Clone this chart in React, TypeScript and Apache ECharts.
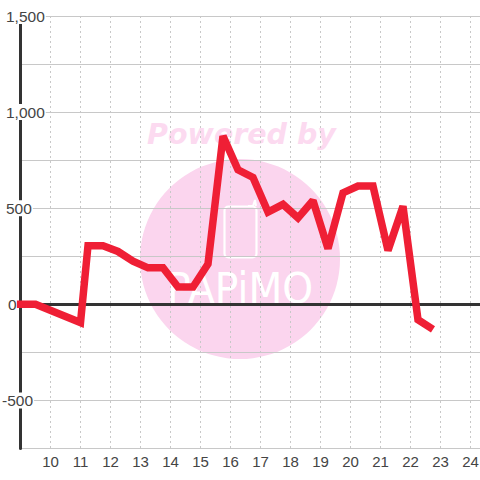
import React, { useEffect, useRef } from "react";
import * as echarts from "echarts";

const hours = [8.88, 9.5, 11, 11.25, 11.75, 12.25, 12.75, 13.25, 13.75, 14.25, 14.75, 15.25, 15.75, 16.25, 16.75, 17.25, 17.75, 18.25, 18.75, 19.25, 19.75, 20.25, 20.75, 21.25, 21.75, 22.25, 22.75];
const values = [0, 0, -95, 305, 305, 275, 225, 190, 190, 90, 90, 210, 875, 700, 660, 480, 520, 450, 540, 290, 580, 615, 615, 280, 510, -80, -130];

const labelFont = { height: 16, lineHeight: 16, fontSize: 15.5, color: "#444", fontFamily: "Liberation Sans" };
const labelRich: Record<string, any> = {
  w: { padding: [0, 1, 0, 4], backgroundColor: "#fff", ...labelFont },
  n: { padding: [0, 1, 0, 0], backgroundColor: "#fff", ...labelFont },
  z: { padding: [0, 0, 0, 6], ...labelFont },
};

export default function App() {
  const ref = useRef<HTMLDivElement>(null);
  useEffect(() => {
    document.body.style.margin = "0";
    const chart = echarts.init(ref.current!, null, { renderer: "svg" });
    chart.setOption({
      animation: false,
      backgroundColor: "#fff",
      grid: { left: 20.5, right: 0, top: 16, bottom: 31.5, containLabel: false, outerBoundsMode: "none" },
      graphic: {
        elements: [
          { type: "circle", z: -10, silent: true, shape: { cx: 240, cy: 259, r: 100 }, style: { fill: "#fbd5ee" } },
          { type: "text", z: -10, silent: true, x: 241.5, y: 134, style: { text: "Powered by", font: "italic bold 28.5px 'DejaVu Sans'", fill: "#fcdaf0", textAlign: "center", textVerticalAlign: "middle" } },
          { type: "rect", z: -9, silent: true, shape: { x: 224.5, y: 206.5, width: 32, height: 51, r: 4 }, style: { fill: "none", stroke: "#fff", lineWidth: 2.2 } },
          { type: "polyline", z: -9, silent: true, shape: { points: [[248, 206], [253, 206], [255, 200], [256, 206]] }, style: { fill: "none", stroke: "#fff", lineWidth: 2 } },
          { type: "text", z: -9, silent: true, x: 240, y: 288, scaleX: 0.98, scaleY: 1.08, style: { text: "PAPiMO", font: "40px 'DejaVu Sans'", fill: "#fff", textAlign: "center", textVerticalAlign: "middle" } },
        ],
      },
      xAxis: [
        {
          type: "value", min: 9, max: 24.317, interval: 1,
          axisLine: { show: false, onZero: false },
          axisTick: { show: false },
          axisLabel: { color: "#444", fontSize: 15, fontFamily: "Liberation Sans", margin: 5, showMinLabel: false, showMaxLabel: false },
          splitLine: { show: true, lineStyle: { color: "#c8c8c8", type: [2, 3], width: 1 } },
        },
        {
          type: "value", min: 9, max: 24.317, interval: 1, position: "bottom",
          axisLine: { show: true, onZero: true, lineStyle: { color: "#333", width: 3 } },
          axisTick: { show: false }, axisLabel: { show: false }, splitLine: { show: false },
        },
      ],
      yAxis: {
        type: "value", min: -750, max: 1500, interval: 250,
        axisLine: { show: true, onZero: false, lineStyle: { color: "#333", width: 3 } },
        axisTick: { show: false },
        axisLabel: {
          align: "left", margin: 18.5, rich: labelRich,
          formatter: (v: number) => {
            if (v % 500 !== 0) return "";
            if (v === 0) return "{z|0}";
            if (v < 0) return `{n|${v}}`;
            return `{w|${v.toLocaleString("en-US")}}`;
          },
        },
        splitLine: { show: true, lineStyle: { color: "#c8c8c8", width: 1 } },
      },
      series: [
        {
          type: "line", xAxisIndex: 0, yAxisIndex: 0, clip: false, silent: true,
          data: hours.map((h, i) => [h, values[i]]),
          showSymbol: false, symbol: "none",
          lineStyle: { color: "#ef1f35", width: 7.5, join: "miter", miterLimit: 2, cap: "butt" },
        },
      ],
    });
    return () => chart.dispose();
  }, []);
  return <div ref={ref} style={{ width: 480, height: 480 }} />;
}
